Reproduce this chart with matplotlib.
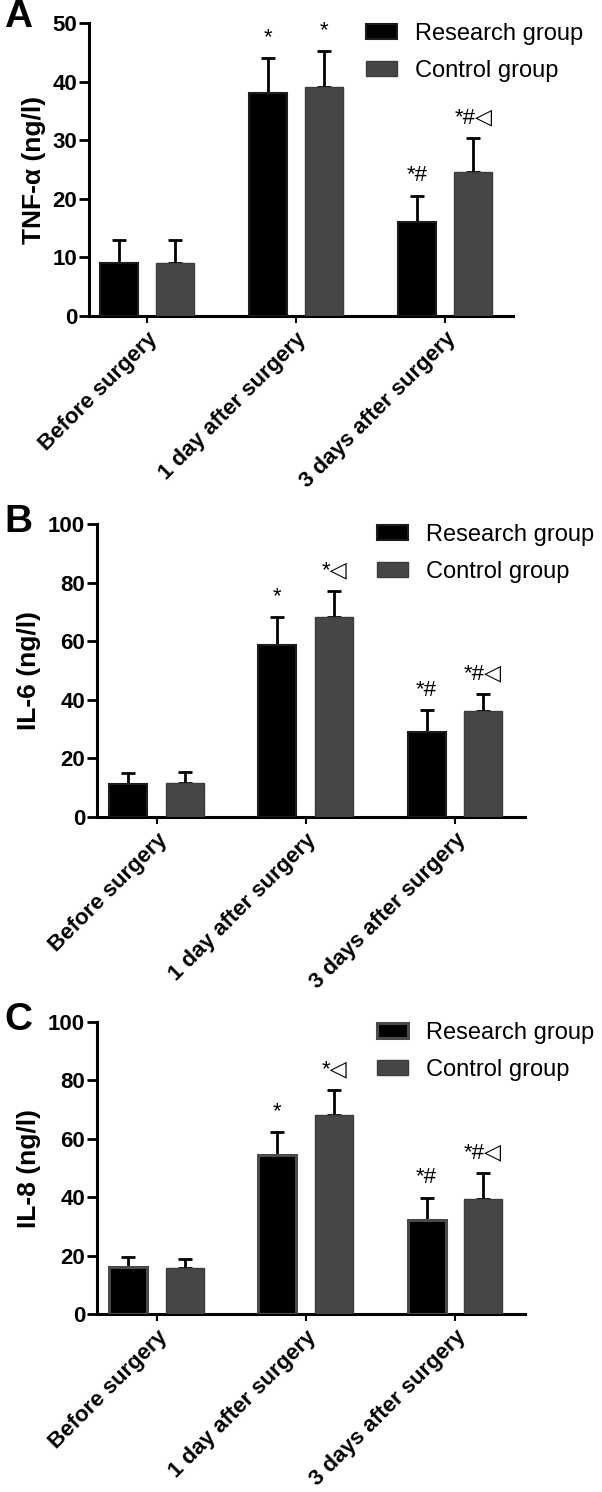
import matplotlib
matplotlib.use('Agg')
import matplotlib.pyplot as plt
import numpy as np

plt.rcParams['font.family'] = ['Liberation Sans', 'DejaVu Sans']

## data
groups = ['Before surgery', '1 day after surgery', '3 days after surgery']
legend_names = ['Research group', 'Control group']

tnf_research = [9.0, 38.0, 16.1]
tnf_research_sd = [3.9, 6.0, 4.4]
tnf_control = [9.1, 39.1, 24.5]
tnf_control_sd = [3.9, 6.1, 5.8]
tnf_marks_research = ['', '*', '*#']
tnf_marks_control = ['', '*', '*#\u25c1']

il6_research = [11.4, 58.7, 29.1]
il6_research_sd = [3.6, 9.5, 7.3]
il6_control = [11.6, 68.3, 36.1]
il6_control_sd = [3.8, 8.9, 5.9]
il6_marks_research = ['', '*', '*#']
il6_marks_control = ['', '*\u25c1', '*#\u25c1']

il8_research = [16.1, 54.3, 32.3]
il8_research_sd = [3.4, 8.2, 7.4]
il8_control = [15.6, 68.3, 39.5]
il8_control_sd = [3.3, 8.3, 8.7]
il8_marks_research = ['', '*', '*#']
il8_marks_control = ['', '*\u25c1', '*#\u25c1']

W, H = 602, 1492
fig = plt.figure(figsize=(W / 100, H / 100), dpi=100)

x = np.arange(len(groups))
width = 0.255
off = 0.19


def panel(box, xlim, letter, letter_base, ylabel, ymax, step, r, rsd, c, csd, mr, mc,
          r_edge, r_lw, leg_x):
    # box = (left, right, top, bottom) in pixels
    l, rt, t, b = box
    ax = fig.add_axes([l / W, 1 - b / H, (rt - l) / W, (b - t) / H])
    ax.bar(x - off, r, width, color='black', edgecolor=r_edge, linewidth=r_lw,
           label=legend_names[0], zorder=3)
    ax.bar(x + off, c, width, color='#464646', edgecolor='#3c3c3c', linewidth=1,
           label=legend_names[1], zorder=3)
    ax.errorbar(x - off, r, yerr=[np.zeros(3), rsd], fmt='none', ecolor='black',
                elinewidth=2, capsize=5, capthick=2, zorder=2)
    ax.errorbar(x + off, c, yerr=[np.zeros(3), csd], fmt='none', ecolor='black',
                elinewidth=2, capsize=5, capthick=2, zorder=2)
    for xi, v, s, m in zip(x - off, r, rsd, mr):
        if m:
            ax.annotate(m, (xi, v + s), xytext=(0, 7), textcoords='offset points',
                        ha='center', va='bottom', fontsize=16)
    for xi, v, s, m in zip(x + off, c, csd, mc):
        if m:
            ax.annotate(m, (xi, v + s), xytext=(0, 7), textcoords='offset points',
                        ha='center', va='bottom', fontsize=16)

    ax.set_xlim(*xlim)
    ax.set_ylim(0, ymax)
    ax.set_yticks(np.arange(0, ymax + 1, step))
    ax.set_xticks(x)
    ax.set_xticklabels(groups, rotation=45, ha='right', rotation_mode='anchor',
                       fontsize=16, fontweight='bold')
    for lab in ax.get_yticklabels():
        lab.set_fontweight('bold')
        lab.set_fontsize(16)
    ax.tick_params(axis='y', direction='out', length=7, width=2, pad=1.5)
    ax.tick_params(axis='x', direction='out', length=5, width=1.5, pad=4)
    ax.set_ylabel(ylabel, fontsize=19, fontweight='bold', labelpad=5)
    for sp in ['top', 'right']:
        ax.spines[sp].set_visible(False)
    for sp in ['left', 'bottom']:
        ax.spines[sp].set_linewidth(2.2)

    ax.legend(loc='upper left', bbox_to_anchor=(leg_x, 1.0), frameon=False,
              fontsize=17, handlelength=1.3, handleheight=0.58, handletextpad=0.8,
              labelspacing=0.62, borderpad=0, borderaxespad=0)
    fig.text(4 / W, 1 - letter_base / H, letter, fontsize=28,
             fontweight='bold', va='baseline', ha='left')
    return ax


panel((89, 513, 23, 316), (-0.39, 2.456), 'A', 27, 'TNF-\u03b1 (ng/l)', 50, 10,
      tnf_research, tnf_research_sd, tnf_control, tnf_control_sd,
      tnf_marks_research, tnf_marks_control, '#1c1c1c', 1.5, 0.653)
panel((97, 525, 524, 817), (-0.40, 2.47), 'B', 532, 'IL-6 (ng/l)', 100, 20,
      il6_research, il6_research_sd, il6_control, il6_control_sd,
      il6_marks_research, il6_marks_control, '#1c1c1c', 1.5, 0.654)
panel((97, 525, 1022, 1314), (-0.40, 2.47), 'C', 1030, 'IL-8 (ng/l)', 100, 20,
      il8_research, il8_research_sd, il8_control, il8_control_sd,
      il8_marks_research, il8_marks_control, '#4a4a4a', 2.2, 0.654)

fig.savefig('out.png', dpi=100)
